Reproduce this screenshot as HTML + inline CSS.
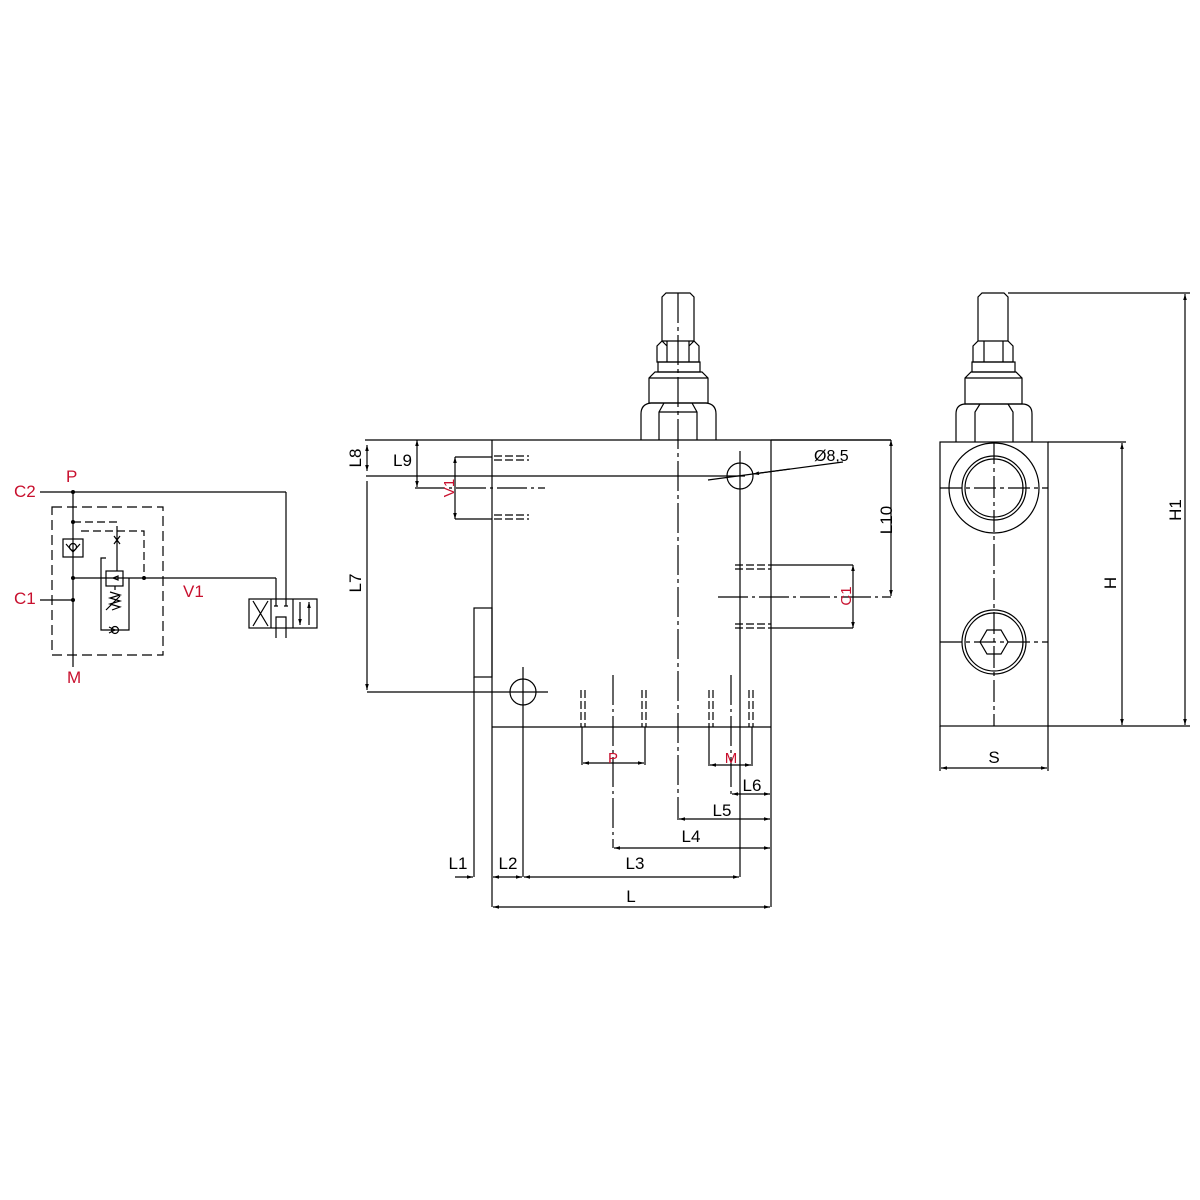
<!DOCTYPE html>
<html><head><meta charset="utf-8"><style>html,body{margin:0;padding:0;background:#fff}svg{display:block}</style></head>
<body>
<svg width="1200" height="1200" viewBox="0 0 1200 1200" xmlns="http://www.w3.org/2000/svg" font-family="Liberation Sans, DejaVu Sans, sans-serif">
<defs>
<marker id="a" viewBox="0 0 10 10" refX="10" refY="5" markerWidth="9" markerHeight="6" orient="auto-start-reverse" markerUnits="userSpaceOnUse"><path d="M0,2 L10,5 L0,8 z" fill="#000"/></marker>
</defs>
<g stroke="#000" stroke-width="1.2" fill="none">
<!-- ===== schematic ===== -->
<line x1="40" y1="492" x2="286" y2="492"/>
<line x1="286" y1="492" x2="286" y2="599"/>
<line x1="73" y1="492" x2="73" y2="667"/>
<line x1="40" y1="600" x2="73" y2="600"/>
<rect x="52" y="507" width="111" height="148" stroke-dasharray="10,5"/>
<polyline points="73,522 117,522 117,531" stroke-dasharray="8,4"/>
<polyline points="81,531 144,531 144,578" stroke-dasharray="8,4"/>
<rect x="63" y="539" width="20" height="18"/>
<path d="M66,544 L73,552 L80,544"/>
<circle cx="73" cy="547" r="3.5"/>
<path d="M114,536 L120,544 M120,536 L114,544"/>
<line x1="117" y1="531" x2="117" y2="571"/>
<polyline points="106,558 101,558 101,630 129,630 129,578"/>
<rect x="106" y="571" width="17" height="15"/>
<path d="M113,578 l5,-2 l0,4 z"/>
<line x1="73" y1="578" x2="276" y2="578"/>
<line x1="276" y1="578" x2="276" y2="599"/>
<path d="M115,586 l0,4 M110,592 l10,3 l-10,3 l10,3 l-10,3 l10,3 l-8,3 M106,610 l14,-14"/>
<circle cx="115" cy="630" r="3.5"/>
<path d="M109,627 l6,3 l-6,3"/>
<!-- directional valve -->
<rect x="249" y="599" width="68" height="29"/>
<line x1="271" y1="599" x2="271" y2="628"/>
<line x1="293" y1="599" x2="293" y2="628"/>
<path d="M253,601 L268,626 M268,601 L253,626"/>
<path d="M276,599 V606 M286,599 V606 M274,606 h4 M284,606 h4"/>
<path d="M276,638 V617 H286 V638"/>
<line x1="300" y1="602" x2="300" y2="625" marker-end="url(#a)"/>
<line x1="309" y1="625" x2="309" y2="602" marker-end="url(#a)"/>
</g>
<g fill="#000">
<circle cx="73" cy="492" r="2"/><circle cx="73" cy="522" r="2"/><circle cx="73" cy="578" r="2"/><circle cx="73" cy="600" r="2"/><circle cx="144" cy="578" r="2"/>
</g>
<g fill="#c8102e" font-size="17">
<text x="66" y="482">P</text>
<text x="14" y="497">C2</text>
<text x="14" y="604">C1</text>
<text x="183" y="597">V1</text>
<text x="67" y="683">M</text>
</g>

<!-- ===== main view ===== -->
<g stroke="#000" stroke-width="1.2" fill="none">
<path d="M662,341 V297 L666,293 H690 L694,297 V341"/>
<path d="M657,362 V346 L662,341 H694 L699,346 V362 Z M667,341 V362 M689,341 V362 M667,346 l-5,-5 M689,346 l5,-5"/>
<rect x="658" y="362" width="42" height="10"/>
<path d="M649,403 V378 L655,372 H702 L708,378 V403 Z M649,378 H708"/>
<path d="M641,440 V414 Q641,404 651,403 H706 Q716,404 716,414 V440 M659,440 V412 L664,403 M697,440 V412 L692,403 M659,412 H697"/>
<line x1="365" y1="440" x2="891" y2="440"/>
<line x1="492" y1="440" x2="492" y2="907"/>
<line x1="771" y1="440" x2="771" y2="907"/>
<line x1="492" y1="727" x2="771" y2="727"/>
<line x1="366" y1="476" x2="745" y2="476"/>
<circle cx="740" cy="476" r="13"/>
<line x1="740" y1="451" x2="740" y2="877"/>
<rect x="474" y="608" width="18" height="69"/>
<line x1="474" y1="677" x2="474" y2="877"/>
<line x1="367" y1="692" x2="548" y2="692"/>
<circle cx="523" cy="692" r="13"/>
<line x1="523" y1="667" x2="523" y2="877"/>
<line x1="678" y1="293" x2="678" y2="820" stroke-dasharray="30,4,4,4"/>
<line x1="367" y1="445" x2="367" y2="471" marker-end="url(#a)" marker-start="url(#a)"/>
<line x1="367" y1="481" x2="367" y2="690" marker-end="url(#a)"/>
<line x1="417" y1="440" x2="417" y2="487" marker-end="url(#a)" marker-start="url(#a)"/>
<line x1="415" y1="488" x2="545" y2="488" stroke-dasharray="30,4,3,4"/>
<line x1="455" y1="457" x2="455" y2="519" marker-end="url(#a)" marker-start="url(#a)"/>
<line x1="455" y1="457" x2="492" y2="457"/><line x1="455" y1="519" x2="492" y2="519"/>
<path d="M494,456 H529 M494,460 H529 M494,515 H529 M494,519 H529" stroke-dasharray="8,3"/>
<line x1="708" y1="480" x2="843" y2="462"/>
<line x1="790" y1="469" x2="753" y2="474" marker-end="url(#a)"/>
<line x1="771" y1="440" x2="891" y2="440"/>
<line x1="891" y1="440" x2="891" y2="596" marker-end="url(#a)" marker-start="url(#a)"/>
<line x1="718" y1="597" x2="891" y2="597" stroke-dasharray="30,4,3,4"/>
<path d="M735,565 H771 M735,569 H771 M735,624 H771 M735,628 H771" stroke-dasharray="8,3"/>
<line x1="771" y1="565" x2="853" y2="565"/><line x1="771" y1="628" x2="853" y2="628"/>
<line x1="853" y1="565" x2="853" y2="628" marker-end="url(#a)" marker-start="url(#a)"/>
<path d="M581,690 V727 M585,690 V727 M642,690 V727 M646,690 V727 M709,690 V727 M713,690 V727 M749,690 V727 M753,690 V727" stroke-dasharray="8,3"/>
<line x1="613" y1="675" x2="613" y2="848" stroke-dasharray="30,4,3,4"/>
<line x1="731" y1="675" x2="731" y2="794" stroke-dasharray="30,4,3,4"/>
<path d="M582,727 V765 M645,727 V765 M709,727 V766 M752,727 V766"/>
<line x1="583" y1="763" x2="644" y2="763" marker-end="url(#a)" marker-start="url(#a)"/>
<line x1="710" y1="765" x2="751" y2="765" marker-end="url(#a)" marker-start="url(#a)"/>
<line x1="732" y1="794" x2="770" y2="794" marker-end="url(#a)" marker-start="url(#a)"/>
<line x1="679" y1="819" x2="770" y2="819" marker-end="url(#a)" marker-start="url(#a)"/>
<line x1="614" y1="848" x2="770" y2="848" marker-end="url(#a)" marker-start="url(#a)"/>
<line x1="524" y1="877" x2="739" y2="877" marker-end="url(#a)" marker-start="url(#a)"/>
<line x1="493" y1="877" x2="522" y2="877" marker-end="url(#a)" marker-start="url(#a)"/>
<line x1="455" y1="877" x2="473" y2="877" marker-end="url(#a)"/>
<line x1="493" y1="907" x2="770" y2="907" marker-end="url(#a)" marker-start="url(#a)"/>
</g>
<g fill="#000" font-size="17">
<text x="355" y="464" transform="rotate(-90 355 458)" text-anchor="middle">L8</text>
<text x="393" y="466">L9</text>
<text x="814" y="461" font-size="16">Ø8,5</text>
<text x="886" y="526" transform="rotate(-90 886 520)" text-anchor="middle">L10</text>
<text x="355" y="589" transform="rotate(-90 355 583)" text-anchor="middle">L7</text>
<text x="752" y="791" text-anchor="middle">L6</text>
<text x="722" y="816" text-anchor="middle">L5</text>
<text x="691" y="842" text-anchor="middle">L4</text>
<text x="635" y="869" text-anchor="middle">L3</text>
<text x="508" y="869" text-anchor="middle">L2</text>
<text x="458" y="869" text-anchor="middle">L1</text>
<text x="631" y="902" text-anchor="middle">L</text>
</g>
<g fill="#c8102e" font-size="15">
<text x="449" y="493" transform="rotate(-90 449 488)" text-anchor="middle">V1</text>
<text x="846" y="601" transform="rotate(-90 846 596)" text-anchor="middle">C1</text>
<text x="613" y="763" text-anchor="middle">P</text>
<text x="731" y="763" text-anchor="middle">M</text>
</g>

<!-- ===== side view ===== -->
<g stroke="#000" stroke-width="1.2" fill="none">
<path d="M978,341 V297 L982,293 H1004 L1008,297 V341"/>
<path d="M973,362 V346 L978,341 H1008 L1013,346 V362 Z M984,341 V362 M1003,341 V362"/>
<rect x="972" y="362" width="43" height="10"/>
<path d="M965,404 V378 L971,372 H1016 L1022,378 V404 Z M965,378 H1022"/>
<path d="M956,442 V414 Q956,404 966,404 H1022 Q1032,404 1032,414 V442 M975,442 V412 L980,404 M1013,442 V412 L1008,404"/>
<rect x="940" y="442" width="108" height="284"/>
<circle cx="994" cy="488" r="45"/>
<circle cx="994" cy="488" r="32"/>
<circle cx="994" cy="488" r="29"/>
<circle cx="994" cy="642" r="32"/>
<circle cx="994" cy="642" r="29"/>
<polygon points="1008,642 1001,654 987,654 980,642 987,630 1001,630"/>
<line x1="994" y1="442" x2="994" y2="726" stroke-dasharray="22,4,4,4"/>
<line x1="940" y1="488" x2="1048" y2="488" stroke-dasharray="22,4,4,4"/>
<line x1="940" y1="642" x2="1048" y2="642" stroke-dasharray="22,4,4,4"/>
<line x1="1008" y1="293" x2="1190" y2="293"/>
<line x1="1048" y1="726" x2="1190" y2="726"/>
<line x1="1048" y1="442" x2="1126" y2="442"/>
<line x1="1185" y1="294" x2="1185" y2="725" marker-end="url(#a)" marker-start="url(#a)"/>
<line x1="1122" y1="443" x2="1122" y2="725" marker-end="url(#a)" marker-start="url(#a)"/>
<line x1="940" y1="726" x2="940" y2="771"/><line x1="1048" y1="726" x2="1048" y2="771"/>
<line x1="941" y1="768" x2="1047" y2="768" marker-end="url(#a)" marker-start="url(#a)"/>
</g>
<g fill="#000" font-size="17">
<text x="1110" y="589" transform="rotate(-90 1110 583)" text-anchor="middle">H</text>
<text x="1175" y="516" transform="rotate(-90 1175 510)" text-anchor="middle">H1</text>
<text x="994" y="763" text-anchor="middle">S</text>
</g>
</svg>
</body></html>
